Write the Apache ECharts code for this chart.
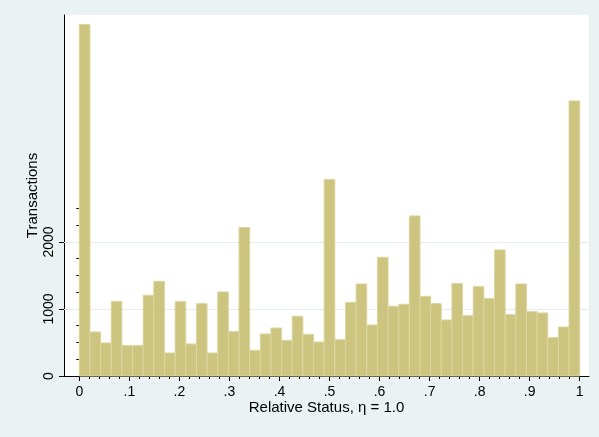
<!DOCTYPE html>
<html>
<head>
<meta charset="utf-8">
<script src="https://cdn.jsdelivr.net/npm/echarts@6/dist/echarts.min.js"></script>
<style>
html,body{margin:0;padding:0;background:#eaf2f3;}
#c{width:599px;height:437px;}
</style>
</head>
<body>
<div id="c"></div>
<script>
// Histogram counts, 47 equal-width bins on [0, 1]
var counts = [5244, 657, 493, 1114, 453, 453, 1204, 1413, 343, 1109,
              478, 1080, 343, 1254, 662, 2214, 383, 627, 716, 532,
              891, 622, 507, 2930, 542, 1095, 1373, 761, 1771, 1040,
              1070, 2388, 1189, 1080, 836, 1378, 900, 1333, 1154, 1881,
              915, 1373, 960, 940, 572, 731, 4104];
var xLabels = [0, 0.1, 0.2, 0.3, 0.4, 0.5, 0.6, 0.7, 0.8, 0.9, 1];
var xMinorTicks = [0,0.02,0.04,0.06,0.08,0.1,0.12,0.14,0.16,0.18,0.2,0.22,0.24,0.26,0.28,0.3,0.32,0.34,0.36,0.38,0.4,0.42,0.44,0.46,0.48,0.5,0.52,0.54,0.56,0.58,0.6,0.62,0.64,0.66,0.68,0.7,0.72,0.74,0.76,0.78,0.8,0.82,0.84,0.86,0.88,0.9,0.92,0.94,0.96,0.98,1];
var yLabels = [0, 1000, 2000];
var yMinorTicks = [0, 250, 500, 750, 1000, 1250, 1500, 1750, 2000, 2250, 2500];
var gridValues = [1000, 2000];

var nBins = counts.length;
var barData = counts.map(function (c, i) { return [i / nBins, (i + 1) / nBins, c]; });

function fmtX(v) {
  if (v === 0) return '0';
  if (v === 1) return '1';
  return ('' + Math.round(v * 10) / 10).replace(/^0/, '');
}
function fmtY(v) { return String(Math.round(v)); }

var FONT = 'Liberation Sans, Arial, Helvetica, sans-serif';
var xMin = -0.0306, xMax = 1.0186, yMax = 5385;

var chart = echarts.init(document.getElementById('c'), null, {renderer: 'canvas'});
chart.setOption({
  backgroundColor: '#eaf2f3',
  animation: false,
  grid: {left: 64, right: 10, top: 15, bottom: 61, show: true, backgroundColor: '#ffffff', borderWidth: 0},
  xAxis: [{
    type: 'value', min: xMin, max: xMax,
    name: 'Relative Status, η = 1.0', nameLocation: 'middle', nameGap: 24, nameMoveOverlap: false,
    nameTextStyle: {fontFamily: FONT, fontSize: 15, color: '#000'},
    axisLine: {show: true, onZero: false, lineStyle: {color: '#000', width: 1}},
    axisTick: {show: true, length: 5, customValues: xLabels, lineStyle: {color: '#000'}},
    axisLabel: {customValues: xLabels, formatter: fmtX, margin: 9, fontFamily: FONT, fontSize: 14, color: '#000'},
    splitLine: {show: false}
  }, {
    type: 'value', min: xMin, max: xMax, position: 'bottom',
    axisLine: {show: false},
    axisTick: {show: true, length: 3, customValues: xMinorTicks, lineStyle: {color: '#000'}},
    axisLabel: {show: false},
    splitLine: {show: false}
  }],
  yAxis: [{
    type: 'value', min: 0, max: yMax,
    name: 'Transactions', nameLocation: 'middle', nameGap: 24, nameMoveOverlap: false,
    nameTextStyle: {fontFamily: FONT, fontSize: 15, color: '#000'},
    axisLine: {show: true, onZero: false, lineStyle: {color: '#000', width: 1}},
    axisTick: {show: true, length: 5, customValues: yLabels, lineStyle: {color: '#000'}},
    axisLabel: {customValues: yLabels, formatter: fmtY, rotate: 90, margin: 8, fontFamily: FONT, fontSize: 14, color: '#000'},
    splitLine: {show: false}
  }, {
    type: 'value', min: 0, max: yMax, position: 'left',
    axisLine: {show: false},
    axisTick: {show: true, length: 3, customValues: yMinorTicks, lineStyle: {color: '#000'}},
    axisLabel: {show: false},
    splitLine: {show: false}
  }],
  series: [{
    type: 'line', data: [], silent: true, z: 1,
    markLine: {
      silent: true, symbol: 'none', z: 1, label: {show: false},
      lineStyle: {color: '#e4edf0', width: 1, type: 'solid'},
      data: gridValues.map(function (v) { return {yAxis: v}; })
    }
  }, {
    type: 'custom', z: 3,
    data: barData,
    encode: {x: [0, 1], y: 2},
    renderItem: function (params, api) {
      var p0 = api.coord([api.value(0), api.value(2)]);
      var p1 = api.coord([api.value(1), 0]);
      return {
        type: 'rect',
        shape: {x: p0[0], y: p0[1], width: p1[0] - p0[0], height: p1[1] - p0[1]},
        style: {fill: '#cdc47f', stroke: '#dad69f', lineWidth: 1}
      };
    }
  }]
});
</script>
</body>
</html>
